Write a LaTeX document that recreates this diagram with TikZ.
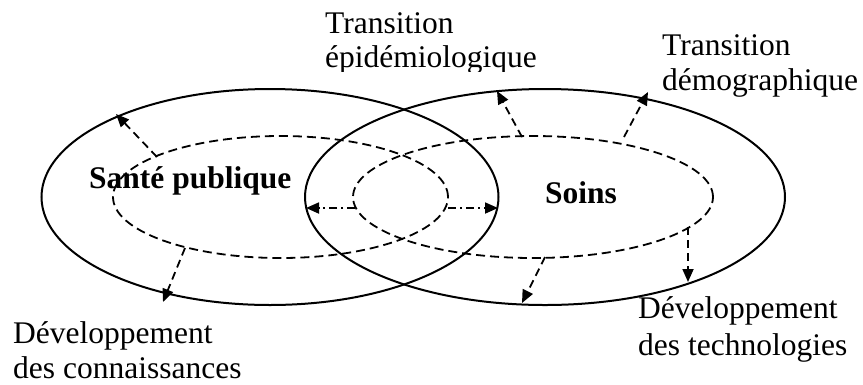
\documentclass[tikz,border=0pt]{standalone}
\usepackage{fontspec}
\setmainfont{Liberation Serif}
\usetikzlibrary{arrows.meta,shapes.geometric}
\begin{document}
\begin{tikzpicture}[x=1pt,y=-1pt,
  ring/.style={draw, ellipse, inner sep=0pt, outer sep=0pt, line width=2pt},
  innerring/.style={ring, line width=1.8pt, dash pattern=on 9pt off 5pt},
  flow/.style={line width=1.8pt, dash pattern=on 8pt off 5pt,
    -{Triangle[length=13pt,width=11pt]}},
  spread/.style={flow, dash pattern=on 8pt off 4pt on 2pt off 4pt},
  lbl/.style={font=\fontsize{31.5}{35}\selectfont, inner sep=0pt, anchor=base west},
  field/.style={font=\fontsize{31.5}{35}\selectfont\bfseries, inner sep=0pt, anchor=base west}]
\useasboundingbox (0,0) rectangle (863,384);

% the two fields: outer solid rings and inner dashed rings
\node[ring, minimum width=457pt, minimum height=216pt] (pubOut) at (270,197) {};
\node[ring, minimum width=480pt, minimum height=216pt] (soinOut) at (545,197) {};
\node[innerring, minimum width=335pt, minimum height=122pt] (pubIn) at (280.5,197) {};
\node[innerring, minimum width=360pt, minimum height=122pt] (soinIn) at (533,197) {};

\node[field] (pub) at (89,188) {Santé publique};
\node[field] (soin) at (545,203) {Soins};

% end points of the expansion arrows
\coordinate (a1s) at (157,157); \coordinate (a1e) at (116,114);
\coordinate (a2s) at (185,248); \coordinate (a2e) at (163,302);
\coordinate (a3s) at (355,208); \coordinate (a3e) at (306,208);
\coordinate (a4s) at (448,208); \coordinate (a4e) at (498,208);
\coordinate (a5s) at (522,137); \coordinate (a5e) at (497,91);
\coordinate (a6s) at (624,137); \coordinate (a6e) at (648,92);
\coordinate (a7s) at (545,257); \coordinate (a7e) at (522,303);
\coordinate (a8s) at (688,227); \coordinate (a8e) at (688,282);

\draw[flow] (a1s) -- (a1e);
\draw[flow] (a2s) -- (a2e);
\draw[spread] (a3s) -- (a3e);
\draw[spread] (a4s) -- (a4e);
\draw[flow] (a5s) -- (a5e);
\draw[flow] (a6s) -- (a6e);
\draw[flow] (a7s) -- (a7e);
\draw[flow] (a8s) -- (a8e);

% driving factors
\node[lbl] (epiA) at (325,33) {Transition};
\begin{scope}
  \clip (300,0) rectangle (600,71);
  \node[lbl] (epiB) at (325,67.5) {épidémiologique};
\end{scope}
\node[lbl] (demA) at (662,55) {Transition};
\node[lbl] (demB) at (662,90) {démographique};
\node[lbl] (conA) at (13,343) {Développement};
\node[lbl] (conB) at (13,378) {des connaissances};
\node[lbl] (tecA) at (638,318) {Développement};
\node[lbl] (tecB) at (638,355) {des technologies};
\end{tikzpicture}
\end{document}
